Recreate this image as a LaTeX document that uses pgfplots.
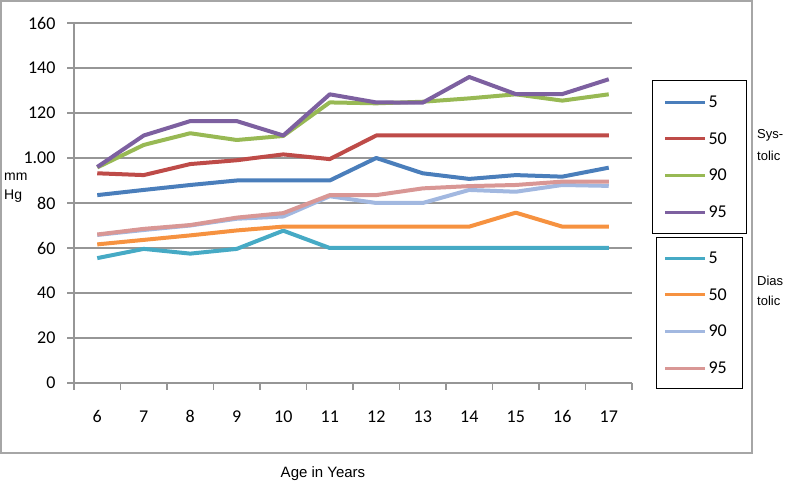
\documentclass[border=0pt]{standalone}
\usepackage{pgfplots}
\usepackage{pgfplotstable}
\pgfplotsset{compat=1.18}
\usepackage{fontspec}
\setmainfont{Liberation Sans}
\newfontfamily\carlito{Carlito}
\definecolor{c1}{HTML}{4A7EBB}
\definecolor{c2}{HTML}{BE4B48}
\definecolor{c3}{HTML}{98B954}
\definecolor{c4}{HTML}{7D60A0}
\definecolor{c5}{HTML}{46AAC5}
\definecolor{c6}{HTML}{F69240}
\definecolor{c7}{HTML}{A2B8E0}
\definecolor{c8}{HTML}{D99795}
\definecolor{gridc}{RGB}{150,150,150}

\pgfplotstableread{
age s5 s50 s90 s95 d5 d50 d90 d95
6 83.5 93.2 95.8 96.0 55.5 61.6 65.8 66.0
7 85.8 92.4 105.8 110.0 59.6 63.6 68.0 68.5
8 88.0 97.3 111.0 116.4 57.5 65.6 70.0 70.2
9 90.0 99.0 108.0 116.4 59.6 67.8 73.0 73.5
10 90.0 101.6 109.8 110.0 67.7 69.5 74.0 75.5
11 90.0 99.5 124.7 128.3 60.0 69.5 83.0 83.5
12 100.0 110.0 124.3 124.7 60.0 69.5 80.0 83.5
13 93.2 110.0 125.0 124.6 60.0 69.5 80.0 86.5
14 90.7 110.0 126.5 136.0 60.0 69.5 85.8 87.5
15 92.4 110.0 128.3 128.4 60.0 75.7 85.0 88.0
16 91.7 110.0 125.5 128.4 60.0 69.5 88.0 89.5
17 95.7 110.0 128.3 135.0 60.0 69.5 87.6 89.5
}\bpdata

\pgfplotsset{
 common/.style={
  at={(74pt,98pt)}, anchor=south west, scale only axis,
  width=558pt, height=360pt,
  xmin=5.5, xmax=17.5, ymin=0, ymax=160,
  legend cell align=left,
  legend image code/.code={\draw[##1, line width=3pt] (0pt,0pt) -- (40pt,0pt);},
  every axis plot/.append style={line width=4pt, line join=round},
  legend style={draw=black, line width=1.2pt,
    font=\carlito\fontsize{18}{18}\selectfont,
    nodes={inner xsep=2pt, inner ysep=2pt, text height=11pt, text depth=0pt},
    row sep=21.7pt, anchor=north west},
 },
}

\begin{document}
\begin{tikzpicture}
\path (0pt,0pt) rectangle (790pt,481pt);
\draw[gridc!85, line width=1.5pt] (1pt,28pt) rectangle (752pt,480pt);

\begin{axis}[common,
  legend style={at={(1.0358,0.8417)}, inner xsep=11pt, inner ysep=14pt},
  axis lines*=left, axis line style={gridc, line width=1.2pt},
  ymajorgrids, grid style={gridc, line width=1.2pt},
  ytick={0,20,...,160}, yticklabels={0,20,40,60,80,1.00,120,140,160},
  xtick={6,...,17}, minor xtick={5.5,6.5,...,17.5},
  tick align=outside, major tick length=7pt, minor tick length=7pt,
  tick style={gridc, line width=1.2pt},
  major x tick style={draw=none},
  ticklabel style={font=\carlito\fontsize{18}{18}\selectfont},
  /pgf/number format/assume math mode=true,
  yticklabel style={xshift=-8pt},
  xticklabel style={yshift=-17pt},
]
\addplot[c1] table[x=age,y=s5] {\bpdata};
\addlegendentry{\makebox[25pt][l]{5}}
\addplot[c2] table[x=age,y=s50] {\bpdata};
\addlegendentry{\makebox[25pt][l]{50}}
\addplot[c3] table[x=age,y=s90] {\bpdata};
\addlegendentry{\makebox[25pt][l]{90}}
\addplot[c4] table[x=age,y=s95] {\bpdata};
\addlegendentry{\makebox[25pt][l]{95}}
\end{axis}

\begin{axis}[common, hide axis,
  legend style={at={(1.043,0.4056)}, inner xsep=7pt, inner ysep=13pt},
]
\addplot[c5] table[x=age,y=d5] {\bpdata};
\addlegendentry{\makebox[25pt][l]{5}}
\addplot[c6] table[x=age,y=d50] {\bpdata};
\addlegendentry{\makebox[25pt][l]{50}}
\addplot[c7] table[x=age,y=d90] {\bpdata};
\addlegendentry{\makebox[25pt][l]{90}}
\addplot[c8] table[x=age,y=d95] {\bpdata};
\addlegendentry{\makebox[25pt][l]{95}}
\end{axis}

\node[anchor=west, inner sep=0pt, align=left, font=\fontsize{14}{19}\selectfont] at (4pt,293.5pt) {mm\\Hg};
\node[anchor=west, inner sep=0pt, align=left, font=\fontsize{13}{22}\selectfont] at (757pt,336pt) {Sys-\\tolic};
\node[anchor=west, inner sep=0pt, align=left, font=\fontsize{13}{20}\selectfont] at (757pt,190pt) {Dias\\tolic};
\node[inner sep=0pt, font=\fontsize{15}{15}\selectfont] at (323pt,7pt) {Age in Years};
\end{tikzpicture}
\end{document}
